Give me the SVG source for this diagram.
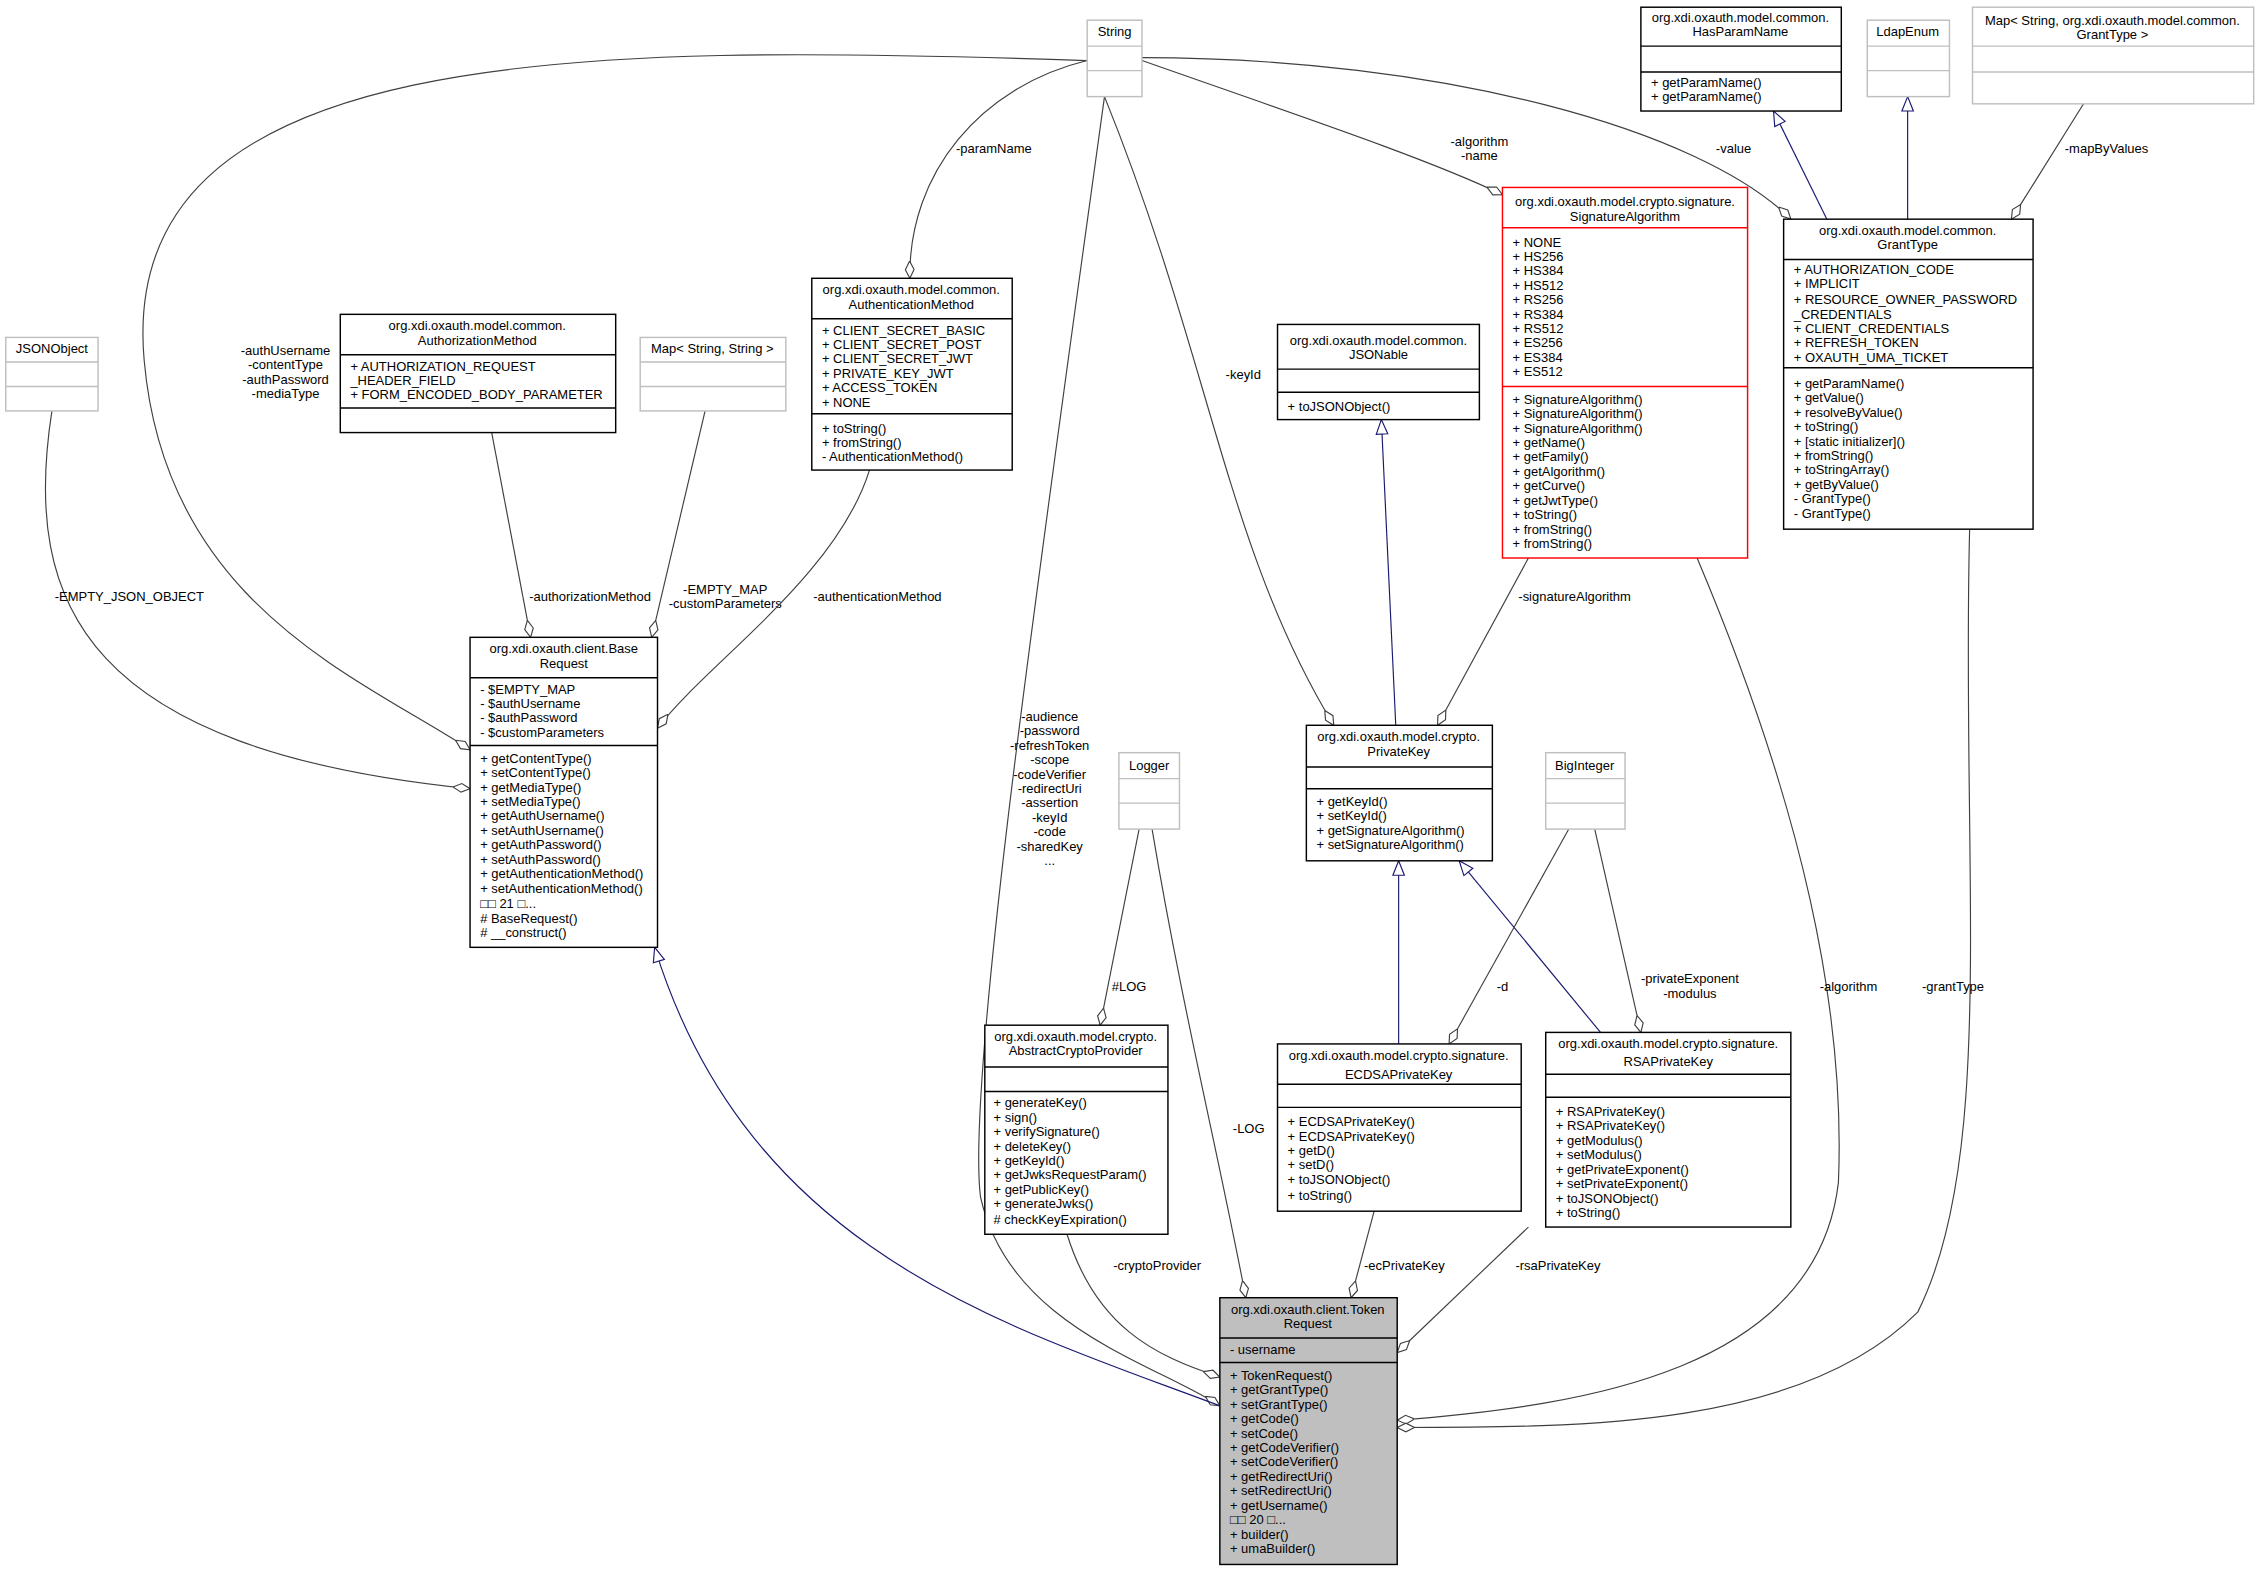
<svg xmlns="http://www.w3.org/2000/svg" width="2261" height="1572" viewBox="0 0 2261 1572">
<style>
text{font-family:"Liberation Sans",Arial,sans-serif;font-size:9px;fill:#000}
.c{text-anchor:middle}
.b{fill:#fff;stroke:#000;stroke-width:1}
.g{fill:#fff;stroke:#bfbfbf;stroke-width:1}
.r{fill:#fff;stroke:#ff0000;stroke-width:1}
.tr{fill:#bfbfbf;stroke:#000;stroke-width:1}
.e{fill:none;stroke:#404040;stroke-width:0.8}
.i{fill:none;stroke:#191970;stroke-width:0.8}
</style>
<defs>
<marker id="d" markerUnits="userSpaceOnUse" markerWidth="14" markerHeight="8" refX="12" refY="4" orient="auto" viewBox="0 0 14 8"><path d="M0,4 L6,1 L12,4 L6,7 Z" fill="#fff" stroke="#404040" stroke-width="0.8"/></marker>
<marker id="t" markerUnits="userSpaceOnUse" markerWidth="12" markerHeight="10" refX="11" refY="5" orient="auto" viewBox="0 0 12 10"><path d="M11,5 L1,1 L1,9 Z" fill="#fff" stroke="#191970" stroke-width="0.8"/></marker>
</defs>
<rect width="2261" height="1572" fill="#fff"/>
<g transform="scale(1.4419)">
<g id="connectors">
<path class="e" marker-end="url(#d)" d="M754,42 C400,30 80,30 100,250 C115,420 250,470 326,520"/>
<text class="c" x="198" y="246">-authUsername</text><text class="c" x="198" y="256">-contentType</text><text class="c" x="198" y="266">-authPassword</text><text class="c" x="198" y="276">-mediaType</text>
<path class="e" marker-end="url(#d)" d="M36,285 C15,420 60,520 326,547"/>
<text x="38" y="417">-EMPTY_JSON_OBJECT</text>
<path class="e" marker-end="url(#d)" d="M341,300 L368,442"/>
<text x="367" y="417">-authorizationMethod</text>
<path class="e" marker-end="url(#d)" d="M489,285 L452,442"/>
<text class="c" x="503" y="412">-EMPTY_MAP</text><text class="c" x="503" y="422">-customParameters</text>
<path class="e" marker-end="url(#d)" d="M603,326 C580,400 490,460 456,505"/>
<text x="564" y="417">-authenticationMethod</text>
<path class="e" marker-end="url(#d)" d="M754,42 C680,60 630,120 631,193"/>
<text x="663" y="106">-paramName</text>
<path class="e" marker-end="url(#d)" d="M792,42 C900,80 990,110 1042,135"/>
<text class="c" x="1026" y="101">-algorithm</text><text class="c" x="1026" y="111">-name</text>
<path class="e" marker-end="url(#d)" d="M792,40 C1000,40 1180,90 1242,152"/>
<text x="1190" y="106">-value</text>
<path class="i" marker-end="url(#t)" d="M1267,152 L1230,77"/>
<path class="i" marker-end="url(#t)" d="M1323,152 L1323,67"/>
<path class="e" marker-end="url(#d)" d="M1445,72 L1395,152"/>
<text x="1432" y="106">-mapByValues</text>
<path class="e" marker-end="url(#d)" d="M766,67 C840,250 850,380 925,503"/>
<text x="850" y="263">-keyId</text>
<path class="e" marker-end="url(#d)" d="M1060,387 L997,503"/>
<text x="1053" y="417">-signatureAlgorithm</text>
<path class="i" marker-end="url(#t)" d="M968,503 L958,291"/>
<path class="e" marker-end="url(#d)" d="M766,67 C720,400 670,750 680,830 C700,920 800,945 846,975"/>
<text class="c" x="728" y="500">-audience</text><text class="c" x="728" y="510">-password</text><text class="c" x="728" y="520">-refreshToken</text><text class="c" x="728" y="530">-scope</text><text class="c" x="728" y="540">-codeVerifier</text><text class="c" x="728" y="550">-redirectUri</text><text class="c" x="728" y="560">-assertion</text><text class="c" x="728" y="570">-keyId</text><text class="c" x="728" y="580">-code</text><text class="c" x="728" y="590">-sharedKey</text><text class="c" x="728" y="600">...</text>
<path class="i" marker-end="url(#t)" d="M846,975 C700,920 520,870 454,657"/>
<path class="e" marker-end="url(#d)" d="M790,575 L763,711"/>
<text x="771" y="687">#LOG</text>
<path class="e" marker-end="url(#d)" d="M799,575 C820,700 845,800 864,900"/>
<text x="855" y="786">-LOG</text>
<path class="e" marker-end="url(#d)" d="M740,856 C760,920 800,940 846,955"/>
<text x="772" y="881">-cryptoProvider</text>
<path class="e" marker-end="url(#d)" d="M953,840 L937,900"/>
<text x="946" y="881">-ecPrivateKey</text>
<path class="e" marker-end="url(#d)" d="M1060,851 L969,938"/>
<text x="1051" y="881">-rsaPrivateKey</text>
<path class="i" marker-end="url(#t)" d="M970,724 L970,597"/>
<path class="i" marker-end="url(#t)" d="M1110,716 L1012,597"/>
<path class="e" marker-end="url(#d)" d="M1088,575 L1005,724"/>
<text x="1038" y="687">-d</text>
<path class="e" marker-end="url(#d)" d="M1106,575 L1138,716"/>
<text class="c" x="1172" y="682">-privateExponent</text><text class="c" x="1172" y="692">-modulus</text>
<path class="e" marker-end="url(#d)" d="M1177,387 C1250,560 1280,700 1275,820 C1260,950 1100,975 969,985"/>
<text x="1262" y="687">-algorithm</text>
<path class="e" marker-end="url(#d)" d="M1366,367 C1360,600 1385,800 1330,910 C1250,990 1100,990 969,990"/>
<text x="1333" y="687">-grantType</text>
</g>
<g id="String"><rect class="g" x="754" y="14" width="38" height="53"/><path d="M754,32H792M754,49H792" stroke="#bfbfbf"/><text class="c" x="773" y="25">String</text></g>
<g id="HasParamName"><rect class="b" x="1138" y="5" width="139" height="72"/><path d="M1138,32H1277M1138,50H1277" stroke="#000"/><text class="c" x="1207" y="15">org.xdi.oxauth.model.common.</text><text class="c" x="1207" y="25">HasParamName</text><text x="1145" y="60">+ getParamName()</text><text x="1145" y="70">+ getParamName()</text></g>
<g id="LdapEnum"><rect class="g" x="1295" y="14" width="57" height="53"/><path d="M1295,32H1352M1295,49H1352" stroke="#bfbfbf"/><text class="c" x="1323" y="25">LdapEnum</text></g>
<g id="MapGrantType"><rect class="g" x="1368" y="5" width="195" height="67"/><path d="M1368,32H1563M1368,50H1563" stroke="#bfbfbf"/><text class="c" x="1465" y="17">Map&lt; String, org.xdi.oxauth.model.common.</text><text class="c" x="1465" y="27">GrantType &gt;</text></g>
<g id="SignatureAlgorithm"><rect class="r" x="1042" y="130" width="170" height="257"/><path d="M1042,158H1212M1042,268H1212" stroke="#ff0000"/><text class="c" x="1127" y="143">org.xdi.oxauth.model.crypto.signature.</text><text class="c" x="1127" y="153">SignatureAlgorithm</text>
<text x="1049" y="171">+ NONE</text><text x="1049" y="181">+ HS256</text><text x="1049" y="191">+ HS384</text><text x="1049" y="201">+ HS512</text><text x="1049" y="211">+ RS256</text><text x="1049" y="221">+ RS384</text><text x="1049" y="231">+ RS512</text><text x="1049" y="241">+ ES256</text><text x="1049" y="251">+ ES384</text><text x="1049" y="261">+ ES512</text>
<text x="1049" y="280">+ SignatureAlgorithm()</text><text x="1049" y="290">+ SignatureAlgorithm()</text><text x="1049" y="300">+ SignatureAlgorithm()</text><text x="1049" y="310">+ getName()</text><text x="1049" y="320">+ getFamily()</text><text x="1049" y="330">+ getAlgorithm()</text><text x="1049" y="340">+ getCurve()</text><text x="1049" y="350">+ getJwtType()</text><text x="1049" y="360">+ toString()</text><text x="1049" y="370">+ fromString()</text><text x="1049" y="380">+ fromString()</text></g>
<g id="GrantType"><rect class="b" x="1237" y="152" width="173" height="215"/><path d="M1237,180H1410M1237,255H1410" stroke="#000"/><text class="c" x="1323" y="163">org.xdi.oxauth.model.common.</text><text class="c" x="1323" y="173">GrantType</text>
<text x="1244" y="190">+ AUTHORIZATION_CODE</text><text x="1244" y="200">+ IMPLICIT</text><text x="1244" y="211">+ RESOURCE_OWNER_PASSWORD</text><text x="1244" y="221">_CREDENTIALS</text><text x="1244" y="231">+ CLIENT_CREDENTIALS</text><text x="1244" y="241">+ REFRESH_TOKEN</text><text x="1244" y="251">+ OXAUTH_UMA_TICKET</text>
<text x="1244" y="269">+ getParamName()</text><text x="1244" y="279">+ getValue()</text><text x="1244" y="289">+ resolveByValue()</text><text x="1244" y="299">+ toString()</text><text x="1244" y="309">+ [static initializer]()</text><text x="1244" y="319">+ fromString()</text><text x="1244" y="329">+ toStringArray()</text><text x="1244" y="339">+ getByValue()</text><text x="1244" y="349">- GrantType()</text><text x="1244" y="359">- GrantType()</text></g>
<g id="JSONable"><rect class="b" x="886" y="225" width="140" height="66"/><path d="M886,256H1026M886,272H1026" stroke="#000"/><text class="c" x="956" y="239">org.xdi.oxauth.model.common.</text><text class="c" x="956" y="249">JSONable</text><text x="893" y="285">+ toJSONObject()</text></g>
<g id="AuthenticationMethod"><rect class="b" x="563" y="193" width="139" height="133"/><path d="M563,221H702M563,287H702" stroke="#000"/><text class="c" x="632" y="204">org.xdi.oxauth.model.common.</text><text class="c" x="632" y="214">AuthenticationMethod</text>
<text x="570" y="232">+ CLIENT_SECRET_BASIC</text><text x="570" y="242">+ CLIENT_SECRET_POST</text><text x="570" y="252">+ CLIENT_SECRET_JWT</text><text x="570" y="262">+ PRIVATE_KEY_JWT</text><text x="570" y="272">+ ACCESS_TOKEN</text><text x="570" y="282">+ NONE</text>
<text x="570" y="300">+ toString()</text><text x="570" y="310">+ fromString()</text><text x="570" y="320">- AuthenticationMethod()</text></g>
<g id="AuthorizationMethod"><rect class="b" x="236" y="218" width="191" height="82"/><path d="M236,246H427M236,283H427" stroke="#000"/><text class="c" x="331" y="229">org.xdi.oxauth.model.common.</text><text class="c" x="331" y="239">AuthorizationMethod</text><text x="243" y="257">+ AUTHORIZATION_REQUEST</text><text x="243" y="267">_HEADER_FIELD</text><text x="243" y="277">+ FORM_ENCODED_BODY_PARAMETER</text></g>
<g id="MapStringString"><rect class="g" x="444" y="234" width="101" height="51"/><path d="M444,251H545M444,268H545" stroke="#bfbfbf"/><text class="c" x="494" y="245">Map&lt; String, String &gt;</text></g>
<g id="JSONObject"><rect class="g" x="4" y="234" width="64" height="51"/><path d="M4,251H68M4,268H68" stroke="#bfbfbf"/><text class="c" x="36" y="245">JSONObject</text></g>
<g id="BaseRequest"><rect class="b" x="326" y="442" width="130" height="215"/><path d="M326,470H456M326,517H456" stroke="#000"/><text class="c" x="391" y="453">org.xdi.oxauth.client.Base</text><text class="c" x="391" y="463">Request</text>
<text x="333" y="481">- $EMPTY_MAP</text><text x="333" y="491">- $authUsername</text><text x="333" y="501">- $authPassword</text><text x="333" y="511">- $customParameters</text>
<text x="333" y="529">+ getContentType()</text><text x="333" y="539">+ setContentType()</text><text x="333" y="549">+ getMediaType()</text><text x="333" y="559">+ setMediaType()</text><text x="333" y="569">+ getAuthUsername()</text><text x="333" y="579">+ setAuthUsername()</text><text x="333" y="589">+ getAuthPassword()</text><text x="333" y="599">+ setAuthPassword()</text><text x="333" y="609">+ getAuthenticationMethod()</text><text x="333" y="619">+ setAuthenticationMethod()</text><text x="333" y="630">□□ 21 □...</text><text x="333" y="640"># BaseRequest()</text><text x="333" y="650"># __construct()</text></g>
<g id="PrivateKey"><rect class="b" x="906" y="503" width="129" height="94"/><path d="M906,532H1035M906,547H1035" stroke="#000"/><text class="c" x="970" y="514">org.xdi.oxauth.model.crypto.</text><text class="c" x="970" y="524">PrivateKey</text><text x="913" y="559">+ getKeyId()</text><text x="913" y="569">+ setKeyId()</text><text x="913" y="579">+ getSignatureAlgorithm()</text><text x="913" y="589">+ setSignatureAlgorithm()</text></g>
<g id="Logger"><rect class="g" x="776" y="522" width="42" height="53"/><path d="M776,540H818M776,557H818" stroke="#bfbfbf"/><text class="c" x="797" y="534">Logger</text></g>
<g id="BigInteger"><rect class="g" x="1072" y="522" width="55" height="53"/><path d="M1072,540H1127M1072,557H1127" stroke="#bfbfbf"/><text class="c" x="1099" y="534">BigInteger</text></g>
<g id="AbstractCryptoProvider"><rect class="b" x="683" y="711" width="127" height="145"/><path d="M683,740H810M683,757H810" stroke="#000"/><text class="c" x="746" y="722">org.xdi.oxauth.model.crypto.</text><text class="c" x="746" y="732">AbstractCryptoProvider</text>
<text x="689" y="768">+ generateKey()</text><text x="689" y="778">+ sign()</text><text x="689" y="788">+ verifySignature()</text><text x="689" y="798">+ deleteKey()</text><text x="689" y="808">+ getKeyId()</text><text x="689" y="818">+ getJwksRequestParam()</text><text x="689" y="828">+ getPublicKey()</text><text x="689" y="838">+ generateJwks()</text><text x="689" y="849"># checkKeyExpiration()</text></g>
<g id="ECDSAPrivateKey"><rect class="b" x="886" y="724" width="169" height="116"/><path d="M886,752H1055M886,768H1055" stroke="#000"/><text class="c" x="970" y="735">org.xdi.oxauth.model.crypto.signature.</text><text class="c" x="970" y="748">ECDSAPrivateKey</text>
<text x="893" y="781">+ ECDSAPrivateKey()</text><text x="893" y="791">+ ECDSAPrivateKey()</text><text x="893" y="801">+ getD()</text><text x="893" y="811">+ setD()</text><text x="893" y="821">+ toJSONObject()</text><text x="893" y="832">+ toString()</text></g>
<g id="RSAPrivateKey"><rect class="b" x="1072" y="716" width="170" height="135"/><path d="M1072,745H1242M1072,761H1242" stroke="#000"/><text class="c" x="1157" y="727">org.xdi.oxauth.model.crypto.signature.</text><text class="c" x="1157" y="739">RSAPrivateKey</text>
<text x="1079" y="774">+ RSAPrivateKey()</text><text x="1079" y="784">+ RSAPrivateKey()</text><text x="1079" y="794">+ getModulus()</text><text x="1079" y="804">+ setModulus()</text><text x="1079" y="814">+ getPrivateExponent()</text><text x="1079" y="824">+ setPrivateExponent()</text><text x="1079" y="834">+ toJSONObject()</text><text x="1079" y="844">+ toString()</text></g>
<g id="TokenRequest"><rect class="tr" x="846" y="900" width="123" height="185"/><path d="M846,928H969M846,945H969" stroke="#000"/><text class="c" x="907" y="911">org.xdi.oxauth.client.Token</text><text class="c" x="907" y="921">Request</text><text x="853" y="939">- username</text>
<text x="853" y="957">+ TokenRequest()</text><text x="853" y="967">+ getGrantType()</text><text x="853" y="977">+ setGrantType()</text><text x="853" y="987">+ getCode()</text><text x="853" y="997">+ setCode()</text><text x="853" y="1007">+ getCodeVerifier()</text><text x="853" y="1017">+ setCodeVerifier()</text><text x="853" y="1027">+ getRedirectUri()</text><text x="853" y="1037">+ setRedirectUri()</text><text x="853" y="1047">+ getUsername()</text><text x="853" y="1057">□□ 20 □...</text><text x="853" y="1067">+ builder()</text><text x="853" y="1077">+ umaBuilder()</text></g>
</g>
</svg>
